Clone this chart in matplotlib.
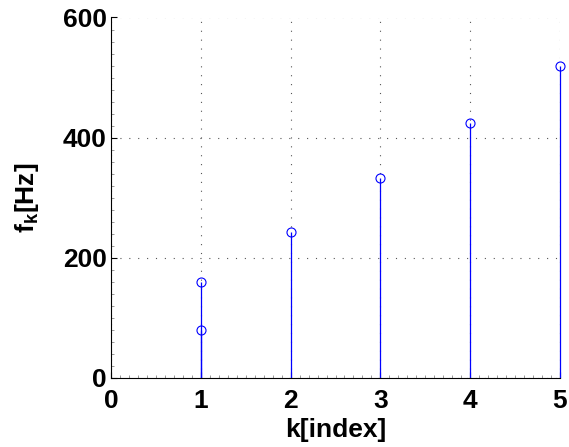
import matplotlib.pyplot as plt
from matplotlib.ticker import AutoMinorLocator

plt.rcParams['font.family'] = ['Liberation Sans', 'DejaVu Sans']
plt.rcParams['font.weight'] = 'bold'
plt.rcParams['mathtext.fontset'] = 'custom'
plt.rcParams['mathtext.bf'] = 'Liberation Sans:bold'
plt.rcParams['mathtext.rm'] = 'Liberation Sans:bold'

# Datos del gráfico de tallos
k_index = [1, 1, 2, 3, 4, 5]
f_hz = [159, 79, 242, 332, 425, 520]

x_ticks = [0, 1, 2, 3, 4, 5]
y_ticks = [0, 200, 400, 600]

fig = plt.figure(figsize=(5.69, 4.47), dpi=100)
ax = fig.add_axes([111 / 569, 1 - 377.7 / 447, 449 / 569, 360.2 / 447])

markerline, stemlines, baseline = ax.stem(k_index, f_hz, basefmt=' ')
plt.setp(markerline, marker='o', markersize=6.5, markerfacecolor='none',
         markeredgecolor='blue', markeredgewidth=0.8, clip_on=False)
plt.setp(stemlines, color='blue', linewidth=0.9, clip_on=False)

ax.set_xlim(0, 5)
ax.set_ylim(0, 600)
ax.set_xticks(x_ticks)
ax.set_yticks(y_ticks)
ax.yaxis.set_minor_locator(AutoMinorLocator(10))
ax.xaxis.set_minor_locator(AutoMinorLocator(10))
ax.tick_params(which='major', direction='in', length=4, labelsize=19, pad=3)
ax.tick_params(which='minor', direction='in', length=2, color='#888888')
ax.tick_params(axis='x', pad=8)

ax.grid(True, which='major', linestyle=(0, (1, 7)), color='#555555', linewidth=0.8)
ax.set_axisbelow(True)
ax.spines['top'].set_visible(False)
ax.spines['right'].set_visible(False)

ax.set_xlabel('k[index]', fontsize=19, fontweight='bold', labelpad=4)
ax.set_ylabel(r'f$_\mathrm{k}$[Hz]', fontsize=19, fontweight='bold', labelpad=16)

plt.savefig('out.png', dpi=100)
plt.close()
